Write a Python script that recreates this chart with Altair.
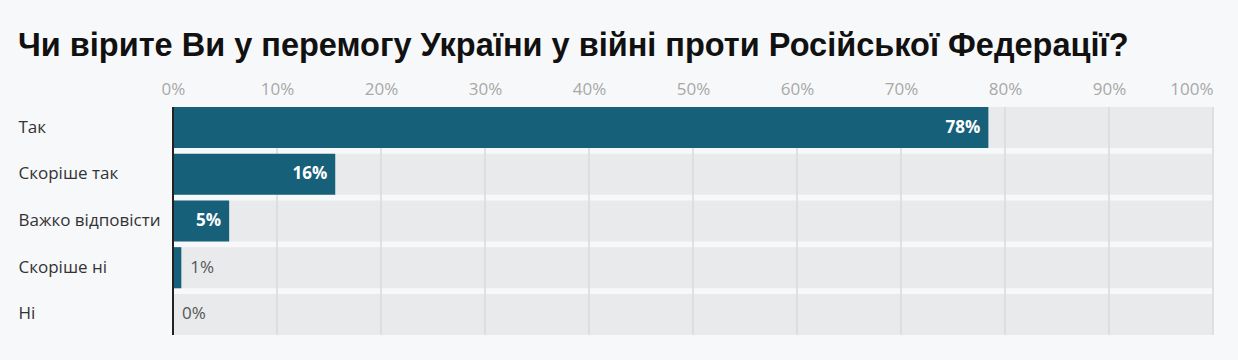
import altair as alt
import pandas as pd

categories = ["Так", "Скоріше так", "Важко відповісти", "Скоріше ні", "Ні"]
values = [78.4, 15.6, 5.4, 0.8, 0.0]
grid_values = [10, 20, 30, 40, 50, 60, 70, 80, 90, 100]
tick_values = [0, 10, 20, 30, 40, 50, 60, 70, 80, 90, 100]

df = pd.DataFrame({"cat": categories, "val": values, "full": [100] * len(categories)})
df["inside"] = df["val"] >= 3
grid_df = pd.DataFrame({"g": grid_values})

W, H = 1040, 228

yenc = alt.Y("cat:N", sort=categories,
             scale=alt.Scale(paddingInner=0.12, paddingOuter=0),
             axis=alt.Axis(title=None, domain=False, ticks=False, labelAlign="left",
                           labelPadding=155, labelFont="Open Sans", labelFontSize=17,
                           labelColor="#333333", labelLimit=200))
xscale = alt.Scale(domain=[0, 100], nice=False, zero=True)

base = alt.Chart(df)

bg = base.mark_bar(color="#e9eaec").encode(
    x=alt.X("full:Q", scale=xscale,
            axis=alt.Axis(orient="top", values=tick_values, labelExpr="datum.value + '%'",
                          title=None, domain=False, ticks=False, grid=False,
                          labelFlush=False,
                          labelAlign=alt.ExprRef("datum.value == 100 ? 'right' : 'center'"),
                          labelFont="Open Sans", labelFontSize=17, labelColor="#a8a8a8",
                          labelPadding=9)),
    y=yenc,
)

grid = alt.Chart(grid_df).mark_rule(color="#dadada", strokeWidth=1.5).encode(
    x=alt.X("g:Q", scale=xscale)
)

bars = base.mark_bar(color="#17607a").encode(
    x=alt.X("val:Q", scale=xscale),
    y=alt.Y("cat:N", sort=categories),
)

zero = alt.Chart(pd.DataFrame({"z": [0]})).mark_rule(color="#222222", strokeWidth=2).encode(
    x=alt.X("z:Q", scale=xscale)
)

txt_in = base.transform_filter("datum.inside").transform_calculate(
    lab="format(datum.val, '.0f') + '%'"
).mark_text(
    align="right", dx=-8, color="white", fontWeight="bold", font="Open Sans", fontSize=17
).encode(
    x="val:Q", y=alt.Y("cat:N", sort=categories), text="lab:N",
)
txt_out = base.transform_filter("!datum.inside").transform_calculate(
    lab="format(datum.val, '.0f') + '%'"
).mark_text(
    align="left", dx=9, color="#555555", font="Open Sans", fontSize=17
).encode(
    x="val:Q", y=alt.Y("cat:N", sort=categories), text="lab:N",
)

chart = alt.layer(bg, grid, bars, zero, txt_in, txt_out).properties(
    width=W, height=H,
    autosize=alt.AutoSizeParams(type="none"),
    padding={"left": 173, "top": 107, "right": 25, "bottom": 25},
    background="#f7f8fa",
    title=alt.TitleParams(
        "Чи вірите Ви у перемогу України у війні проти Російської Федерації?",
        anchor="start", font="Liberation Sans", fontSize=32.5, fontWeight="bold",
        color="#111111", offset=24, baseline="alphabetic", dy=32,
    ),
).configure_view(stroke=None)

chart.save("out.html", embed_options={"renderer": "svg", "actions": False})
